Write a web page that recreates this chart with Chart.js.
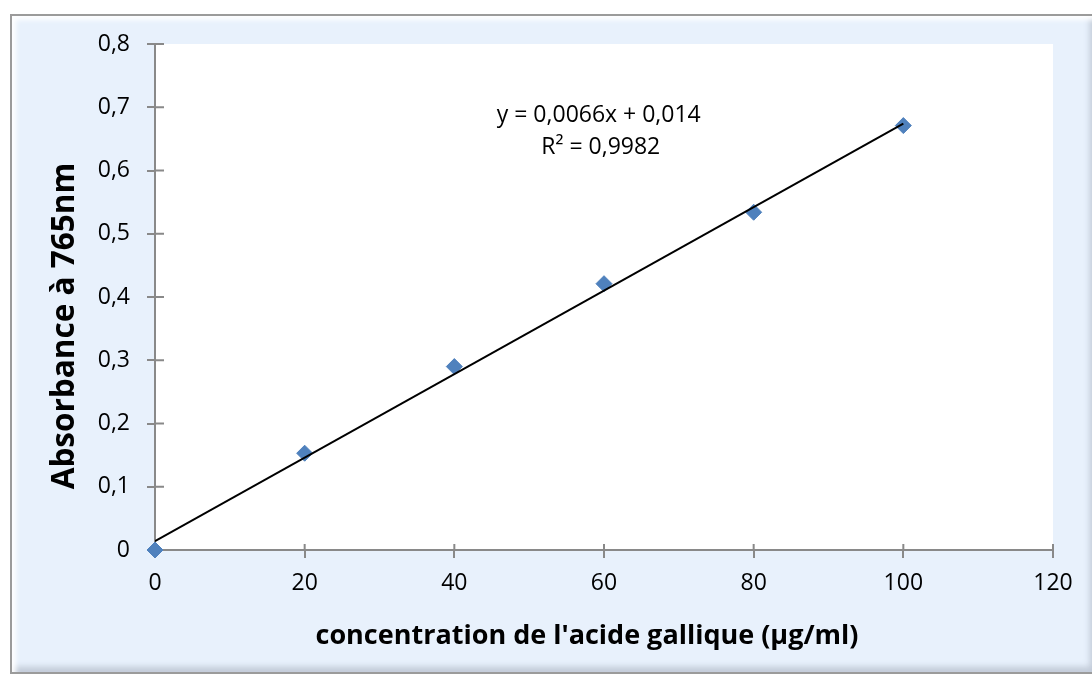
<!DOCTYPE html>
<html>
<head>
<meta charset="utf-8">
<script src="https://cdn.jsdelivr.net/npm/chart.js@4/dist/chart.umd.min.js"></script>
<style>
  html, body { margin: 0; padding: 0; background: #fff; width: 1092px; height: 675px; overflow: hidden; }
  #frame {
    position: absolute; left: 10px; top: 14px; width: 1084px; height: 656px;
    background: #e8f1fc; border: 2px solid #9b9b9b; border-right: none;
    box-shadow: inset 4px 4px 5px rgba(255,255,255,0.95), inset -6px -5px 6px rgba(120,130,145,0.35);
  }
  #wrap { position: absolute; left: 0; top: 0; width: 1092px; height: 675px; }
</style>
</head>
<body>
<div id="frame"></div>
<div id="wrap"><canvas id="chart" width="1092" height="675"></canvas></div>
<script>
// measured points
const concentrations = [0, 20, 40, 60, 80, 100];
const absorbances = [0, 0.153, 0.290, 0.421, 0.534, 0.671];

// linear trend line endpoints (y = 0,0066x + 0,014)
const trendX = [0, 100];
const trendY = [0.014, 0.674];

const eqLines = ['y = 0,0066x + 0,014', 'R² = 0,9982'];
const xTitle = "concentration de l'acide gallique (µg/ml)";
const yTitle = 'Absorbance à 765nm';

const axisGray = '#898989';
const font = '"Open Sans", Lato, sans-serif';

function fmt(v) {
  return v === 0 ? '0' : v.toFixed(1).replace('.', ',');
}

// white plot area, crossing tick marks, equation and axis titles
const decor = {
  id: 'decor',
  beforeDraw(chart) {
    const a = chart.chartArea, ctx = chart.ctx;
    ctx.save();
    ctx.fillStyle = '#ffffff';
    ctx.fillRect(a.left, a.top, a.right - a.left, a.bottom - a.top);
    ctx.restore();
  },
  beforeDatasetsDraw(chart) {
    const a = chart.chartArea, ctx = chart.ctx;
    const xs = chart.scales.x, ys = chart.scales.y;
    ctx.save();
    ctx.strokeStyle = axisGray;
    ctx.lineWidth = 2;
    ctx.beginPath();
    xs.ticks.forEach(t => {
      const px = xs.getPixelForValue(t.value);
      ctx.moveTo(px, a.bottom); ctx.lineTo(px, a.bottom - 6);
    });
    ys.ticks.forEach(t => {
      const py = ys.getPixelForValue(t.value);
      ctx.moveTo(a.left, py); ctx.lineTo(a.left + 9, py);
    });
    ctx.stroke();

    ctx.fillStyle = '#000';
    ctx.textAlign = 'center';
    ctx.textBaseline = 'middle';
    ctx.font = '23px ' + font;
    const cx = xs.getPixelForValue(59.3);
    ctx.fillText(eqLines[0], cx, 115);
    ctx.fillText(eqLines[1], cx + 2, 147);

    // axis titles (placed off-centre as in the original)
    ctx.font = 'bold 27px ' + font;
    ctx.fillText(xTitle, 587, 636);
    ctx.translate(65, 326);
    ctx.rotate(-Math.PI / 2);
    ctx.font = 'bold 31.5px ' + font;
    ctx.fillText(yTitle, 0, 0);
    ctx.restore();
  }
};

new Chart(document.getElementById('chart'), {
  type: 'scatter',
  data: {
    datasets: [
      {
        type: 'line',
        data: trendX.map((x, i) => ({ x: x, y: trendY[i] })),
        borderColor: '#000000',
        borderWidth: 2,
        pointRadius: 0,
        fill: false,
        order: 1
      },
      {
        data: concentrations.map((x, i) => ({ x: x, y: absorbances[i] })),
        pointStyle: 'rectRot',
        pointRadius: 8,
        pointHoverRadius: 8,
        backgroundColor: '#4f81bd',
        borderColor: '#4f81bd',
        borderWidth: 1,
        clip: false,
        order: 2
      }
    ]
  },
  options: {
    responsive: false,
    animation: false,
    layout: { padding: { left: 0, top: 44, right: 39, bottom: 0 } },
    plugins: { legend: { display: false }, tooltip: { enabled: false } },
    scales: {
      x: {
        type: 'linear',
        min: 0, max: 120,
        afterFit(s) { s.height = 125; },
        border: { color: axisGray, width: 2 },
        grid: { drawOnChartArea: false, color: axisGray, lineWidth: 2, tickLength: 8 },
        ticks: { stepSize: 20, color: '#000', padding: 12, font: { family: font, size: 23 } }
      },
      y: {
        min: 0, max: 0.8,
        afterFit(s) { s.width = 155; },
        border: { color: axisGray, width: 2 },
        grid: { drawOnChartArea: false, color: axisGray, lineWidth: 2, tickLength: 8 },
        ticks: { stepSize: 0.1, color: '#000', padding: 17, font: { family: font, size: 23 }, callback: v => fmt(v) }
      }
    }
  },
  plugins: [decor]
});
</script>
</body>
</html>
